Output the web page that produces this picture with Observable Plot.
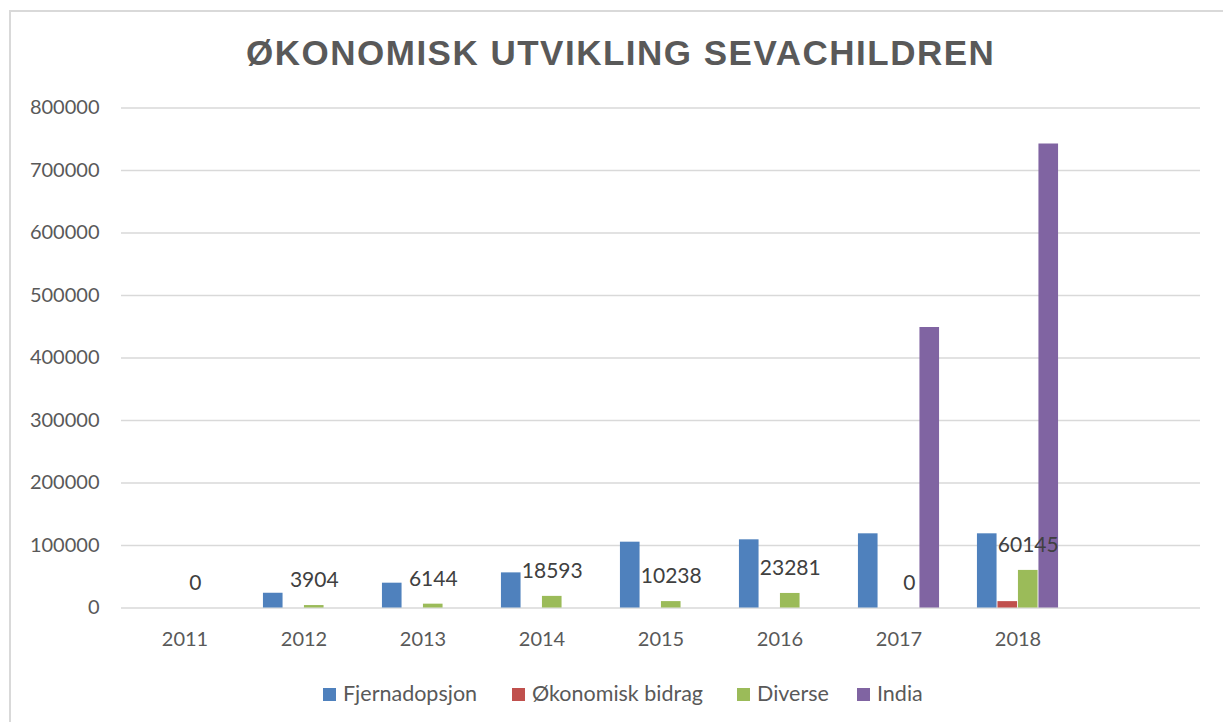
<!DOCTYPE html>
<html>
<head>
<meta charset="utf-8">
<script src="https://cdn.jsdelivr.net/npm/d3@7"></script>
<script src="https://cdn.jsdelivr.net/npm/@observablehq/plot@0.6"></script>
<style>
  html, body { margin: 0; padding: 0; background: #fff; overflow: hidden; }
  #wrap { position: relative; width: 1223px; height: 722px; overflow: hidden; background: #fff; }
  #frame { position: absolute; left: 9px; top: 10px; width: 1240px; height: 740px; border: 2px solid #d9d9d9; box-sizing: border-box; }
  #title { position: absolute; left: 246px; top: 33px; font-family: "Liberation Sans", Arial, sans-serif; font-weight: bold; font-size: 35px; line-height: 40px; letter-spacing: 1.5px; color: #595959; white-space: nowrap; }
  #chart { position: absolute; left: 0; top: 0; }
  #legend { position: absolute; left: 0; top: 680px; width: 1223px; height: 26px; font-family: Lato, "Noto Sans", sans-serif; font-size: 21.5px; color: #595959; }
  .item { position: absolute; top: 0; height: 26px; display: flex; align-items: center; white-space: nowrap; }
  .sw { width: 13px; height: 13px; margin-right: 7px; margin-top: 2px; }
</style>
</head>
<body>
<div id="wrap">
  <div id="frame"></div>
  <div id="title">ØKONOMISK UTVIKLING SEVACHILDREN</div>
  <div id="chart"></div>
  <div id="legend"></div>
</div>
<script>
const years = ["2011", "2012", "2013", "2014", "2015", "2016", "2017", "2018", ""];
const series = ["Fjernadopsjon", "Økonomisk bidrag", "Diverse", "India"];
const fjernadopsjon = [0, 23600, 39700, 56200, 105300, 109100, 118700, 118700];
const okonomiskBidrag = [0, 0, 0, 0, 0, 0, 0, 10200];
const diverse = [0, 3904, 6144, 18593, 10238, 23281, 0, 60145];
const india = [0, 0, 0, 0, 0, 0, 448800, 742400];
const colors = ["#4f81bd", "#c0504d", "#9bbb59", "#8064a2"];
const yTicks = [0, 100000, 200000, 300000, 400000, 500000, 600000, 700000, 800000];

const values = [fjernadopsjon, okonomiskBidrag, diverse, india];
const table = series.map((s, i) => years.slice(0, 8).map((y, j) => ({year: y, series: s, value: values[i][j]})));
const labels = years.slice(0, 8).map((y, j) => ({year: y, value: diverse[j]}));

const W = 1223, H = 650;
const mL = 121, mR = 23;
const band = (W - mL - mR) / years.length;
const barW = 20.5;
const groupStart = (band - barW * 4) / 2;

const barMarks = table.map((rows, i) => Plot.barY(rows, {
  x: "year", y: "value", fill: colors[i],
  insetLeft: groupStart + barW * i,
  insetRight: band - (groupStart + barW * (i + 1))
}));

const plot = Plot.plot({
  width: W, height: H,
  marginLeft: mL, marginRight: mR, marginTop: 107.5, marginBottom: H - 607.5,
  style: {fontFamily: "Lato, 'Noto Sans', sans-serif", fontSize: "20px", color: "#595959", background: "transparent"},
  x: {domain: years, paddingInner: 0, paddingOuter: 0, label: null, tickSize: 0, tickPadding: 24},
  y: {domain: [0, 800000], ticks: yTicks, tickFormat: d => String(d), label: null, tickSize: 0, tickPadding: 22},
  marks: [
    Plot.ruleY(yTicks, {stroke: "#d9d9d9", strokeWidth: 1.5}),
    ...barMarks,
    Plot.text(labels, {x: "year", y: "value", text: d => String(d.value), dx: groupStart + barW * 2.5 - band / 2, dy: -25, fill: "#404040", fontSize: 21})
  ]
});
document.getElementById("chart").appendChild(plot);

const legend = document.getElementById("legend");
const lx = [323, 512, 737, 857];
series.forEach((s, i) => {
  const it = document.createElement("div");
  it.className = "item";
  it.style.left = lx[i] + "px";
  it.innerHTML = `<div class="sw" style="background:${colors[i]}"></div><span>${s}</span>`;
  legend.appendChild(it);
});
</script>
</body>
</html>
